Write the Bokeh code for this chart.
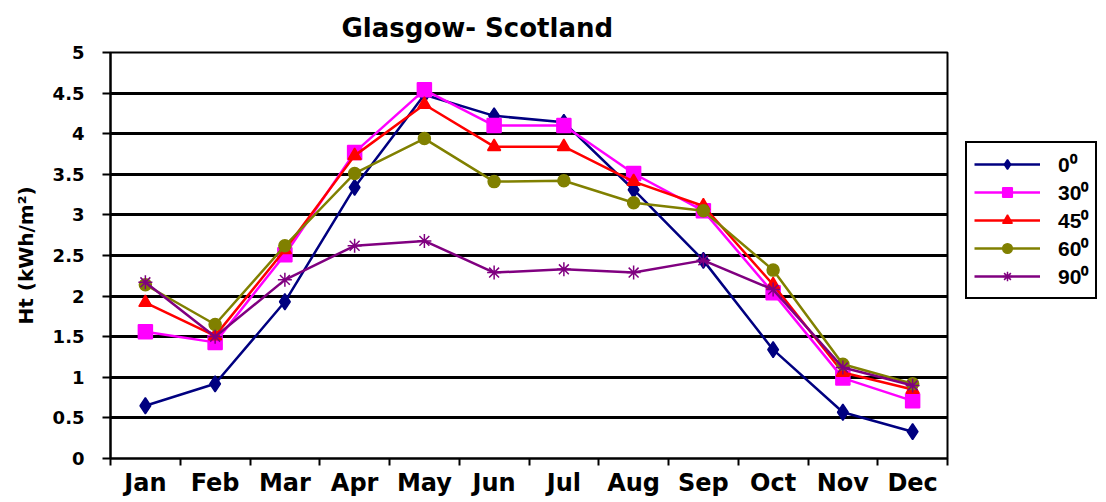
from bokeh.plotting import figure
from bokeh.models import Range1d, FixedTicker, Legend, LegendItem, Title
from bokeh.embed import file_html
from bokeh.resources import INLINE

months = ["Jan", "Feb", "Mar", "Apr", "May", "Jun", "Jul", "Aug", "Sep", "Oct", "Nov", "Dec"]
ht_0 = [0.65, 0.92, 1.93, 3.34, 4.48, 4.22, 4.14, 3.31, 2.44, 1.34, 0.57, 0.33]
ht_30 = [1.56, 1.43, 2.51, 3.77, 4.54, 4.10, 4.10, 3.51, 3.05, 2.04, 0.99, 0.71]
ht_45 = [1.92, 1.51, 2.57, 3.73, 4.36, 3.84, 3.84, 3.41, 3.11, 2.14, 1.06, 0.85]
ht_60 = [2.14, 1.65, 2.62, 3.51, 3.94, 3.41, 3.42, 3.15, 3.05, 2.32, 1.16, 0.92]
ht_90 = [2.17, 1.50, 2.20, 2.62, 2.68, 2.29, 2.33, 2.29, 2.44, 2.08, 1.12, 0.90]
series_labels = ["0\u2070", "30\u2070", "45\u2070", "60\u2070", "90\u2070"]
y_ticks = [0, 0.5, 1, 1.5, 2, 2.5, 3, 3.5, 4, 4.5, 5]
y_tick_labels = ["0", "0.5", "1", "1.5", "2", "2.5", "3", "3.5", "4", "4.5", "5"]

FONT = "DejaVu Sans"
LFONT = "Liberation Sans"

x = [i + 0.5 for i in range(len(months))]

p = figure(
    frame_width=837, frame_height=406,
    x_range=Range1d(0, 12), y_range=Range1d(0, 5),
    output_backend="svg", toolbar_location=None,
    min_border_left=110, min_border_right=0, min_border_top=49, min_border_bottom=31,
)
p.background_fill_color = "white"
p.border_fill_color = "white"
p.outline_line_color = "black"
p.outline_line_width = 2

t = Title(text="Glasgow- Scotland", align="left", offset=231,
          text_font=FONT, text_font_size="26px", text_font_style="bold",
          text_color="black", standoff=20)
p.add_layout(t, "above")

# x axis
p.xaxis.ticker = FixedTicker(ticks=x, minor_ticks=list(range(13)))
p.xaxis.major_label_overrides = {xx: m for xx, m in zip(x, months)}
p.xaxis.major_tick_out = 0
p.xaxis.major_tick_in = 0
p.xaxis.minor_tick_out = 7
p.xaxis.minor_tick_in = 0
p.xaxis.minor_tick_line_width = 2
p.xaxis.minor_tick_line_color = "black"
p.xaxis.axis_line_width = 2
p.xaxis.major_label_standoff = 3
p.xaxis.major_label_text_font = FONT
p.xaxis.major_label_text_font_size = "24px"
p.xaxis.major_label_text_font_style = "bold"
p.xaxis.major_label_text_color = "black"

# y axis
p.yaxis.ticker = FixedTicker(ticks=y_ticks, minor_ticks=[])
p.yaxis.major_label_overrides = {v: s for v, s in zip(y_ticks, y_tick_labels)}
p.yaxis.major_tick_out = 8
p.yaxis.major_tick_in = 0
p.yaxis.major_tick_line_width = 2
p.yaxis.minor_tick_line_color = None
p.yaxis.axis_line_width = 2
p.yaxis.major_label_standoff = 18
p.yaxis.major_label_text_font = FONT
p.yaxis.major_label_text_font_size = "18px"
p.yaxis.major_label_text_font_style = "bold"
p.yaxis.major_label_text_color = "black"
p.yaxis.axis_label = "Ht (kWh/m\u00b2)"
p.yaxis.axis_label_text_font = FONT
p.yaxis.axis_label_text_font_size = "20px"
p.yaxis.axis_label_text_font_style = "bold"
p.yaxis.axis_label_text_color = "black"
p.yaxis.axis_label_standoff = 12

p.xgrid.grid_line_color = None
p.ygrid.ticker = FixedTicker(ticks=y_ticks)
p.ygrid.grid_line_color = "black"
p.ygrid.grid_line_width = 3

styles = [
    (ht_0, "#000080", "diamond", 16),
    (ht_30, "#FF00FF", "square", 14),
    (ht_45, "#FF0000", "triangle", 13),
    (ht_60, "#808000", "circle", 12),
    (ht_90, "#800080", "asterisk", 14),
]

items = []
for (vals, col, mk, sz), lab in zip(styles, series_labels):
    r1 = p.line(x, vals, line_color=col, line_width=2.5)
    r2 = p.scatter(x, vals, marker=mk, size=sz, fill_color=col, line_color=col, line_width=1.5)
    items.append(LegendItem(label=lab, renderers=[r1, r2]))

legend = Legend(items=items, location=(18, 159),
                label_text_font=LFONT, label_text_font_size="21px",
                label_text_font_style="bold", label_text_color="black",
                border_line_color="black", border_line_width=2, border_line_alpha=1.0,
                glyph_width=66, glyph_height=24, spacing=0, padding=7,
                label_standoff=18, label_height=24, margin=0,
                background_fill_color="white")
p.add_layout(legend, "right")

open("out.html", "w").write(file_html(p, INLINE))
